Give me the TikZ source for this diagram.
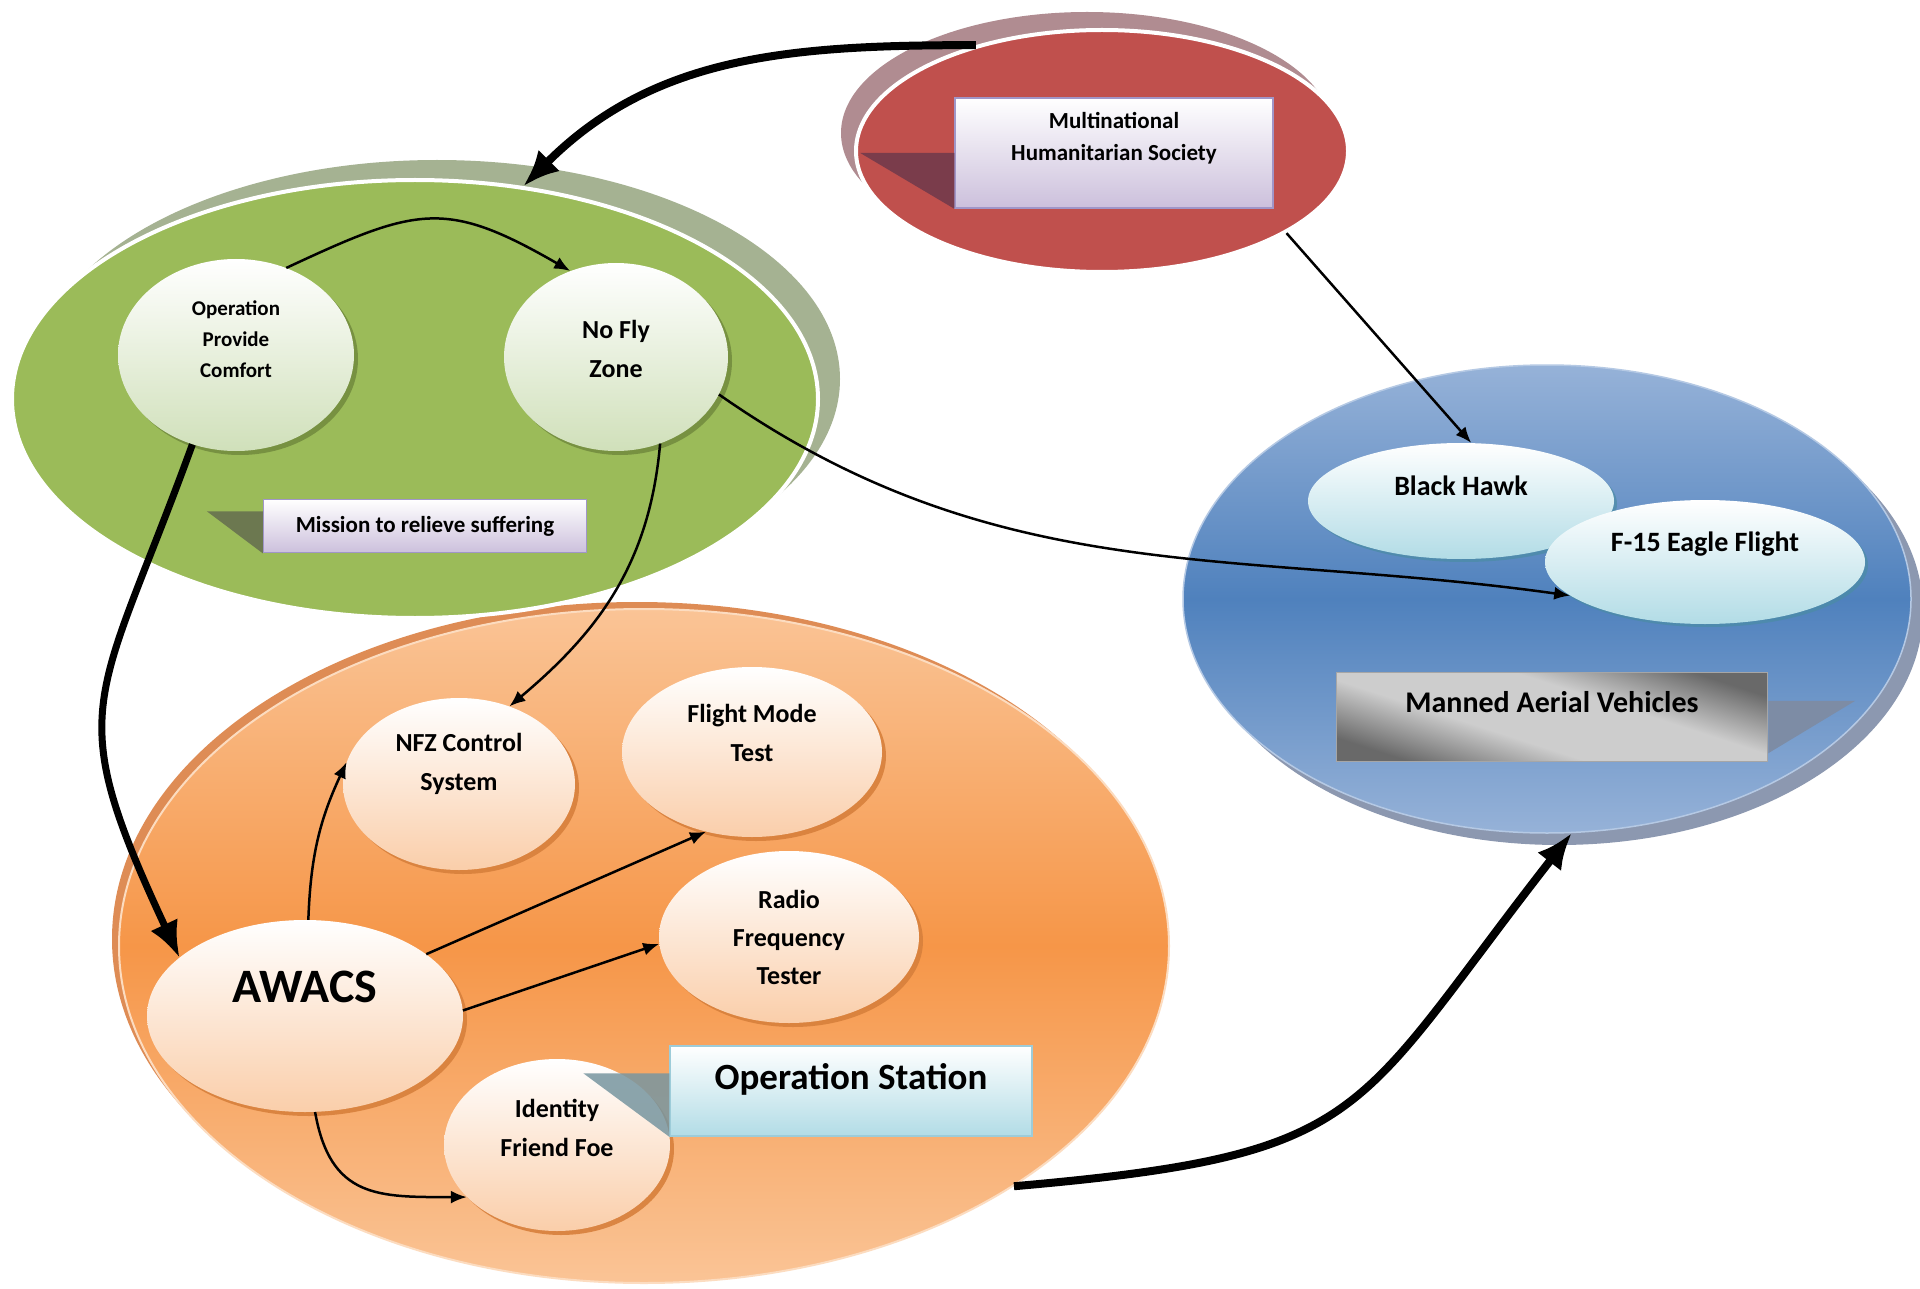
\documentclass[tikz,border=0pt]{standalone}
\usepackage{fontspec}
\setmainfont{Carlito}
\usetikzlibrary{shapes,arrows.meta,positioning,calc,shadows}
\definecolor{societyred}{RGB}{192,80,77}
\definecolor{societyshade}{RGB}{176,140,145}
\definecolor{societytip}{RGB}{122,60,75}
\definecolor{reliefgreen}{RGB}{155,187,89}
\definecolor{reliefshade}{RGB}{165,178,146}
\definecolor{relieftip}{RGB}{108,120,80}
\definecolor{greenlow}{RGB}{208,224,186}
\definecolor{greenedge}{RGB}{110,135,60}
\definecolor{fleettop}{RGB}{150,178,216}
\definecolor{fleetmid}{RGB}{79,129,189}
\definecolor{fleetshade}{RGB}{140,152,176}
\definecolor{fleettip}{RGB}{125,140,165}
\definecolor{cyanlow}{RGB}{178,220,230}
\definecolor{cyanedge}{RGB}{75,140,165}
\definecolor{stationtop}{RGB}{250,196,150}
\definecolor{stationmid}{RGB}{246,150,72}
\definecolor{stationshade}{RGB}{222,140,85}
\definecolor{stationtip}{RGB}{120,150,160}
\definecolor{peachlow}{RGB}{250,206,170}
\definecolor{peachedge}{RGB}{215,128,60}
\definecolor{boxlow}{RGB}{204,192,220}
\definecolor{boxedge}{RGB}{160,150,200}
\definecolor{metaldark}{RGB}{105,105,105}
\definecolor{metallight}{RGB}{205,205,205}
\pgfdeclarehorizontalshading{metal}{100bp}{color(0bp)=(metaldark); color(25bp)=(metaldark); color(41bp)=(metallight); color(59bp)=(metallight); color(75bp)=(metaldark); color(100bp)=(metaldark)}
\newcommand{\bubblefont}[2]{\fontsize{#1}{#2}\selectfont\bfseries}

\begin{document}
\begin{tikzpicture}[x=1pt,y=1pt,
	zone/.style={ellipse, inner sep=0pt},
	bubble/.style={ellipse, inner sep=0pt, align=center},
	greenbub/.style={bubble, top color=white, bottom color=greenlow, drop shadow={shadow xshift=4pt, shadow yshift=-4pt, fill=greenedge, opacity=0.8}},
	cyanbub/.style={bubble, top color=white, bottom color=cyanlow, drop shadow={shadow xshift=3pt, shadow yshift=-3pt, fill=cyanedge, opacity=0.7}},
	peachbub/.style={bubble, top color=white, bottom color=peachlow, drop shadow={shadow xshift=4pt, shadow yshift=-4pt, fill=peachedge, opacity=0.9}},
	notebox/.style={rectangle, inner sep=0pt, align=center, top color=white, bottom color=boxlow, draw=boxedge, line width=1.5pt},
	flow/.style={line width=2.5pt, ->, >={Latex[length=16pt,width=13pt]}},
	thickflow/.style={line width=8pt, ->, >={Latex[length=36pt,width=30pt]}}]
	\fill[white] (0,0) rectangle (1920,-1289);
	
	% Draw the four zones
	\node[zone, minimum width=1050pt, minimum height=674pt, top color=stationtop, bottom color=stationtop, middle color=stationmid, draw=stationtop!60!white, line width=2pt, drop shadow={shadow xshift=-7pt, shadow yshift=7pt, fill=stationshade, opacity=1}] (station) at (644,-946) {};
	\node[zone, minimum width=806pt, minimum height=438pt, fill=reliefgreen, draw=white, line width=4pt, drop shadow={shadow xshift=22pt, shadow yshift=20pt, fill=reliefshade, opacity=1}] (relief) at (415,-399) {};
	\node[zone, minimum width=492pt, minimum height=242pt, fill=societyred, draw=white, line width=4pt, drop shadow={shadow xshift=-15pt, shadow yshift=18pt, fill=societyshade, opacity=1}] (society) at (1102,-151) {};
	\node[zone, minimum width=728pt, minimum height=468pt, top color=fleettop, bottom color=fleettop, middle color=fleetmid, draw=fleettop!70!white, line width=1.5pt, drop shadow={shadow xshift=12pt, shadow yshift=-12pt, fill=fleetshade, opacity=1}] (fleet) at (1547,-599) {};
	
	% Society
	\node[notebox, minimum width=318pt, minimum height=110pt, font=\bubblefont{23}{32}, text depth=34pt] (mhs) at (1114,-153) {Multinational\\Humanitarian Society};
	\fill[societytip] (mhs.south west) -- (mhs.west) -- ++(-94,0) -- cycle;
	
	% Relief mission
	\node[greenbub, minimum width=236pt, minimum height=192pt, font=\bubblefont{21}{31}, text depth=32pt] (opc) at (236,-355) {Operation\\Provide\\Comfort};
	\node[greenbub, minimum width=224pt, minimum height=188pt, font=\bubblefont{26}{39}, text depth=16pt] (nfz) at (616,-357) {No Fly\\Zone};
	\node[notebox, minimum width=323pt, minimum height=53pt, font=\bubblefont{23}{28}] (mission) at (425,-526) {Mission to relieve suffering};
	\fill[relieftip] (mission.south west) -- ++(0,42) -- ++(-56,0) -- cycle;
	
	% Manned aerial vehicles
	\node[cyanbub, minimum width=306pt, minimum height=116pt, font=\bubblefont{28}{34}, text depth=30pt] (hawk) at (1461,-501) {Black Hawk};
	\node[cyanbub, minimum width=320pt, minimum height=124pt, font=\bubblefont{28}{34}, text depth=41pt] (eagle) at (1705,-562) {F-15 Eagle Flight};
	\node[rectangle, inner sep=0pt, shading=metal, shading angle=72, draw=gray!70, line width=1.5pt, minimum width=431pt, minimum height=89pt, font=\bubblefont{30}{34}, text depth=30pt] (mav) at (1552,-717) {Manned Aerial Vehicles};
	\fill[fleettip] ($(mav.north east)+(0,-29)$) -- ++(87,0) -- ($(mav.south east)+(0,9)$) -- cycle;
	
	% Operation station
	\node[peachbub, minimum width=232pt, minimum height=172pt, font=\bubblefont{26}{39}, text depth=45pt] (nfzc) at (459,-784) {NFZ Control\\System};
	\node[peachbub, minimum width=260pt, minimum height=170pt, font=\bubblefont{26}{39}, text depth=38pt] (fmt) at (752,-752) {Flight Mode\\Test};
	\node[peachbub, minimum width=260pt, minimum height=172pt, font=\bubblefont{26}{38}] (rft) at (789,-937) {Radio\\Frequency\\Tester};
	\node[peachbub, minimum width=316pt, minimum height=192pt, font=\bubblefont{48}{52}, text depth=58pt] (awacs) at (305,-1016) {AWACS};
	\node[peachbub, minimum width=226pt, minimum height=172pt, font=\bubblefont{26}{39}, text depth=34pt] (iff) at (557,-1145) {Identity\\Friend Foe};
	\node[notebox, top color=white, bottom color=cyanlow, draw=cyanlow!80!cyanedge, minimum width=362pt, minimum height=90pt, font=\bubblefont{37}{40}, text depth=29pt] (os) at (851,-1091) {Operation Station};
	\fill[stationtip, opacity=0.85] ($(os.north west)+(0,-28)$) -- ++(-86,0) -- (os.south west) -- cycle;
	
	% Draw connections
	\draw[thickflow] (society.140) to[out=180,in=45] (relief.63);
	\draw[flow] (society.-24) -- (hawk.80);
	\draw[flow] (opc.60) to[out=25,in=150,looseness=1.3] (nfz.118);
	\draw[thickflow, line width=7pt] (opc.244) to[out=250,in=115,looseness=1.4] (awacs.155);
	\draw[flow] (nfz.-63) to[out=265,in=40] (nfzc.57);
	\draw[flow] (nfz.-20) to[out=-35,in=172] (eagle.194);
	\draw[flow] (awacs.88) to[out=88,in=245] (nfzc.169);
	\draw[flow] (awacs.27) -- (fmt.240);
	\draw[flow] (awacs.2) -- (rft.183);
	\draw[flow] (awacs.-84) to[out=-80,in=180,looseness=1.3] (iff.210);
	\draw[thickflow] (station.-33.5) to[out=5,in=232,looseness=1.4] (fleet.-84);
\end{tikzpicture}
\end{document}
